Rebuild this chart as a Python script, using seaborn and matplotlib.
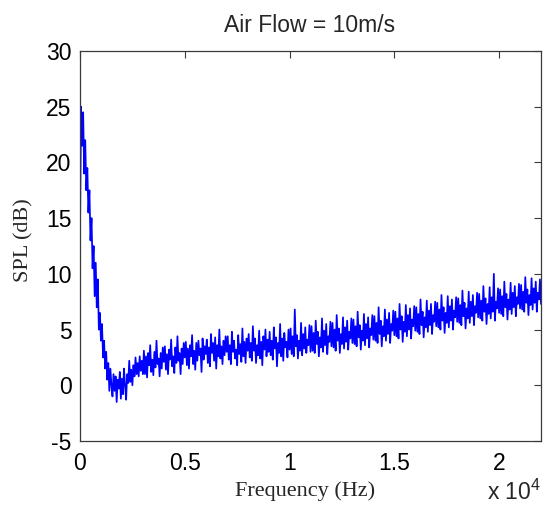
import numpy as np
import pandas as pd
import matplotlib
matplotlib.use("Agg")
import matplotlib.pyplot as plt
import seaborn as sns

# ---- data ----
freq_step_hz = 50
spl_db = [
    # 0 .. 1500 Hz
    13.5, 25.0, 21.5, 24.5, 19.0, 22.0, 17.5, 19.5, 15.5, 17.5,
    13.0, 15.0, 10.5, 12.5, 8.0, 11.0, 7.0, 9.5, 5.0, 6.5,
    4.0, 5.5, 2.5, 4.0, 1.5, 3.0, 0.5, 2.0, -0.5, 1.5, 0.0,
    # 1550 .. 3000 Hz
    -1.0, 1.0, -0.5, 0.8, -1.5, 0.5, -0.3, 1.2, -1.2, 0.6,
    -0.8, 1.5, 0.0, -1.3, 1.0, 0.2, 2.2, 0.3, 1.4, 0.0,
    1.8, 0.8, 2.5, 1.0, 2.0, 0.8, 2.6, 1.3, 2.2, 1.0,
    # 3050 .. 4000
    3.1, 1.0, 2.6, 0.7, 2.9, 1.8, 3.6, 1.2, 2.3, 0.9, 3.0, 1.6, 4.0, 1.9, 2.4, 0.8, 2.9, 1.5, 3.4, 2.1,
    # 4050 .. 5000
    3.5, 1.4, 2.8, 1.0, 3.2, 2.3, 4.1, 1.7, 2.6, 1.1, 3.4, 2.0, 4.4, 2.2, 2.9, 1.0, 3.3, 1.9, 3.8, 2.5,
    # 5050 .. 6000
    3.9, 1.8, 3.3, 1.5, 3.6, 2.6, 4.5, 1.9, 3.1, 1.4, 3.8, 2.2, 4.0, 2.7, 3.3, 1.2, 4.2, 2.3, 3.5, 2.8,
    # 6050 .. 7000
    4.1, 2.0, 3.4, 1.7, 4.6, 2.9, 3.8, 2.2, 4.3, 1.5, 3.6, 2.6, 5.0, 2.4, 3.5, 1.9, 4.0, 2.7, 4.4, 3.0,
    # 7050 .. 8000
    4.4, 2.3, 3.6, 1.9, 4.8, 3.0, 4.0, 2.4, 3.2, 1.8, 4.5, 2.8, 3.7, 2.1, 5.1, 2.6, 3.9, 2.0, 4.2, 3.1,
    # 8050 .. 9000
    4.6, 2.5, 3.8, 2.2, 5.3, 3.1, 4.2, 2.0, 3.6, 2.7, 4.9, 2.4, 3.9, 1.8, 4.4, 3.2, 5.0, 2.6, 4.1, 3.0,
    # 9050 .. 10000
    4.8, 2.7, 4.0, 2.3, 5.2, 3.3, 4.3, 1.7, 3.8, 2.9, 5.5, 2.6, 4.2, 2.2, 4.7, 3.4, 3.9, 2.5, 5.0, 3.2,
    # 10050 .. 11000
    5.1, 2.8, 4.4, 2.6, 6.8, 3.5, 4.5, 2.4, 4.0, 3.1, 5.6, 2.7, 4.6, 3.3, 5.2, 2.9, 4.1, 3.6, 5.4, 3.0,
    # 11050 .. 12000
    5.3, 3.1, 4.7, 2.9, 5.8, 3.7, 4.8, 2.6, 4.3, 3.4, 6.0, 3.0, 4.9, 3.6, 5.5, 2.8, 4.4, 3.9, 5.7, 3.5,
    # 12050 .. 13000
    5.6, 3.4, 5.0, 3.1, 6.3, 4.0, 5.1, 2.9, 4.6, 3.7, 6.1, 3.3, 5.2, 3.9, 5.8, 3.2, 4.8, 4.2, 6.0, 3.8,
    # 13050 .. 14000
    5.9, 3.7, 5.3, 3.5, 6.6, 4.3, 5.4, 3.2, 4.9, 4.0, 6.4, 3.6, 5.5, 4.2, 6.1, 3.4, 5.1, 4.5, 6.3, 4.1,
    # 14050 .. 15000
    6.2, 4.0, 5.6, 3.8, 7.0, 4.6, 5.8, 3.5, 5.3, 4.4, 6.8, 4.0, 5.9, 4.6, 6.5, 3.8, 5.5, 4.9, 6.7, 4.5,
    # 15050 .. 16000
    6.6, 4.4, 6.0, 4.2, 7.3, 5.0, 6.2, 3.9, 5.7, 4.8, 7.2, 4.4, 6.3, 5.0, 6.9, 4.2, 5.9, 5.3, 7.1, 4.9,
    # 16050 .. 17000
    7.0, 4.8, 6.4, 4.6, 7.7, 5.4, 6.6, 4.3, 6.1, 5.2, 7.6, 4.8, 6.7, 5.4, 7.3, 4.6, 6.3, 5.7, 7.5, 5.3,
    # 17050 .. 18000
    7.4, 5.2, 6.8, 5.0, 8.1, 5.8, 7.0, 4.7, 6.5, 5.6, 8.0, 5.2, 7.1, 5.8, 7.7, 5.0, 6.7, 6.1, 7.9, 5.7,
    # 18050 .. 19000
    7.8, 5.6, 7.2, 5.4, 8.5, 6.2, 7.4, 5.1, 6.9, 6.0, 8.4, 5.6, 7.5, 6.2, 8.1, 5.4, 7.1, 6.5, 8.3, 6.1,
    # 19050 .. 20000
    8.2, 6.0, 7.6, 5.8, 8.9, 6.6, 7.8, 5.5, 7.3, 6.4, 8.8, 6.0, 7.9, 6.6, 10.0, 5.8, 7.5, 6.9, 8.7, 6.5,
    # 20050 .. 21000
    8.6, 6.4, 8.0, 6.2, 9.3, 7.0, 8.2, 5.9, 7.7, 6.8, 9.2, 6.4, 8.3, 7.0, 8.9, 6.2, 7.9, 7.3, 9.1, 6.9,
    # 21050 .. 22000
    9.0, 6.8, 8.4, 6.6, 9.7, 7.4, 8.6, 6.3, 8.1, 7.2, 9.6, 6.8, 8.7, 7.4, 9.3, 6.6, 8.3, 7.7, 9.5, 7.3,
]
freq_hz = np.arange(len(spl_db)) * freq_step_hz

x_ticks = [0, 5000, 10000, 15000, 20000]
x_tick_labels = ["0", "0.5", "1", "1.5", "2"]
y_ticks = [-5, 0, 5, 10, 15, 20, 25, 30]
y_tick_labels = ["-5", "0", "5", "10", "15", "20", "25", "30"]
title = "Air Flow = 10m/s"
x_label = "Frequency (Hz)"
y_label = "SPL (dB)"
x_multiplier = "x 10$^{4}$"

df = pd.DataFrame({"freq": freq_hz, "spl": spl_db})

# ---- style ----
sns.set_style("white")
plt.rcParams["font.family"] = ["Liberation Sans", "DejaVu Sans"]
plt.rcParams["mathtext.fontset"] = "custom"
plt.rcParams["mathtext.rm"] = "Liberation Sans"

W, H = 547, 515
fig = plt.figure(figsize=(W / 100, H / 100), dpi=100)
ax = fig.add_axes([80 / W, 1 - 441 / H, 461 / W, 390 / H])

sns.lineplot(data=df, x="freq", y="spl", ax=ax, color="#0000ff",
             linewidth=1.25, estimator=None, sort=False)

ax.set_xlim(0, 22000)
ax.set_ylim(-5, 30)
ax.set_xticks(x_ticks)
ax.set_xticklabels(x_tick_labels)
ax.set_yticks(y_ticks)
ax.set_yticklabels(y_tick_labels)
ax.set_xlabel("")
ax.set_ylabel("")

edge = "#3a3a3a"
for s in ax.spines.values():
    s.set_visible(True)
    s.set_color(edge)
    s.set_linewidth(0.9)
ax.tick_params(direction="in", length=5, width=0.8, color=edge,
               top=True, right=True, labelsize=16.5, labelcolor="black")
ax.tick_params(axis="x", pad=8)
ax.tick_params(axis="y", pad=6)

fig.text(310 / W, 1 - 26 / H, title, ha="center", va="center", fontsize=16.5)
fig.text(305 / W, 1 - 491 / H, x_label, ha="center", va="center",
         fontsize=16, family=["Liberation Serif", "DejaVu Serif"])
fig.text(24 / W, 1 - 240 / H, y_label, ha="center", va="center",
         rotation=90, fontsize=16, family=["Liberation Serif", "DejaVu Serif"])
fig.text(541 / W, 1 - 500 / H, x_multiplier, ha="right", va="baseline",
         fontsize=16.5)

fig.savefig("out.png", dpi=100)
